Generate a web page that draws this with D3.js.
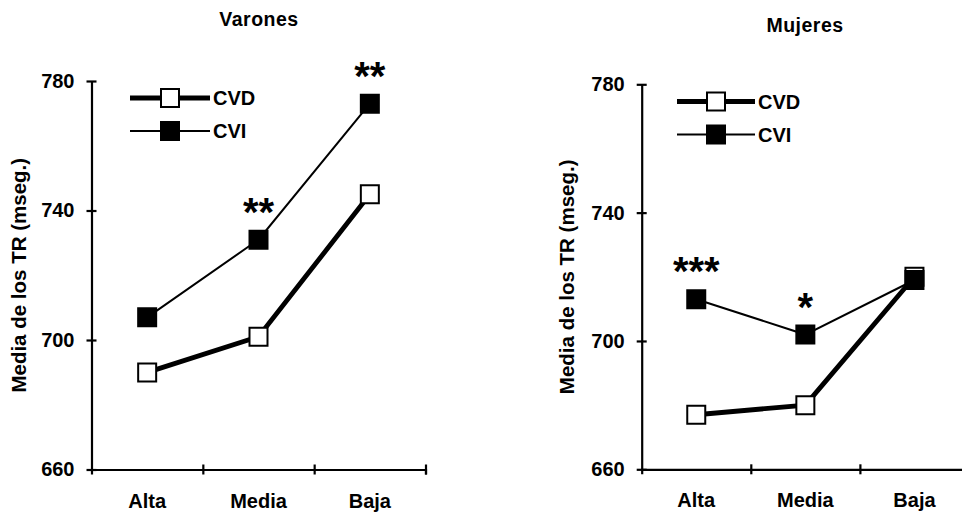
<!DOCTYPE html>
<html>
<head>
<meta charset="utf-8">
<script src="https://cdn.jsdelivr.net/npm/d3@7"></script>
<style>
    body { margin: 0; background: #fff; }
    text { font-family: "Liberation Sans", Arial, sans-serif; font-weight: bold; fill: #000; }
</style>
</head>
<body>
<div id="chart"></div>
<script>
// data
const categories = ["Alta", "Media", "Baja"];
const yTicks = [660, 700, 740, 780];

const varonesCVD = [690, 701, 745];
const varonesCVI = [707, 731, 773];
const varonesStars = ["", "**", "**"];

const mujeresCVD = [677, 680, 720];
const mujeresCVI = [713, 702, 719];
const mujeresStars = ["***", "*", ""];

const seriesNames = ["CVD", "CVI"];

document.addEventListener('DOMContentLoaded', function () {
    const svg = d3.select("#chart")
        .append("svg")
        .attr("width", 962)
        .attr("height", 514);

    drawPanel({
        title: "Varones", titleX: 259, titleY: 26,
        x0: 91.5, x1: 425.5, yTop: 81, yBottom: 469.5,
        legendX: 130, legendY: 98, legendW: 80,
        cvd: varonesCVD, cvi: varonesCVI, stars: varonesStars,
        labelX: 26
    });

    drawPanel({
        title: "Mujeres", titleX: 805, titleY: 32,
        x0: 641.7, x1: 969, yTop: 84.3, yBottom: 469.3,
        legendX: 677, legendY: 101.5, legendW: 78,
        cvd: mujeresCVD, cvi: mujeresCVI, stars: mujeresStars,
        labelX: 574
    });

    function drawPanel(p) {
        const g = svg.append("g");

        const xScale = d3.scaleBand().domain(categories).range([p.x0, p.x1]);
        const yScale = d3.scaleLinear().domain([660, 780]).range([p.yBottom, p.yTop]);
        const xCenter = c => xScale(c) + xScale.bandwidth() / 2;

        // y axis
        const yAxis = g.append("g")
            .attr("transform", "translate(" + p.x0 + ",0)")
            .call(d3.axisLeft(yScale).tickValues(yTicks).tickSize(5).tickSizeOuter(0).tickPadding(12));
        yAxis.selectAll("line").attr("x1", 5).attr("x2", -5);

        // x axis: labels at band centres, ticks at band edges
        const edges = d3.scaleLinear().domain([0, categories.length]).range([p.x0, p.x1]);
        const xTicks = g.append("g")
            .attr("transform", "translate(0," + p.yBottom + ")")
            .call(d3.axisBottom(edges).tickValues([1, 2, 3]).tickFormat("").tickSizeOuter(0).tickSize(5));
        xTicks.selectAll("line").attr("y1", -5).attr("y2", 5);

        const xLabels = g.append("g")
            .attr("transform", "translate(0," + p.yBottom + ")")
            .call(d3.axisBottom(xScale).tickSize(0).tickPadding(24));
        xLabels.select(".domain").remove();

        g.selectAll(".domain, .tick line")
            .attr("stroke", "#000")
            .attr("stroke-width", 2.2);
        g.selectAll(".tick text")
            .attr("font-family", null)
            .style("font-size", "20px");
        [yAxis, xTicks, xLabels].forEach(a => a.attr("font-family", null).attr("font-size", null));

        // axis title
        g.append("text")
            .attr("transform", "translate(" + p.labelX + "," + ((p.yTop + p.yBottom) / 2) + ") rotate(-90)")
            .attr("text-anchor", "middle")
            .style("font-size", "20.5px")
            .text("Media de los TR (mseg.)");

        // panel title
        g.append("text")
            .attr("x", p.titleX)
            .attr("y", p.titleY)
            .attr("text-anchor", "middle")
            .style("font-size", "19.5px")
            .style("letter-spacing", "0.5px")
            .text(p.title);

        const line = d3.line()
            .x((d, i) => xCenter(categories[i]))
            .y(d => yScale(d));

        const square = d3.symbol().type(d3.symbolSquare).size(324);

        const series = [
            { name: seriesNames[0], values: p.cvd, width: 4.8, fill: "#fff" },
            { name: seriesNames[1], values: p.cvi, width: 2, fill: "#000" }
        ];

        series.forEach(s => {
            g.append("path")
                .datum(s.values)
                .attr("d", line)
                .attr("fill", "none")
                .attr("stroke", "#000")
                .attr("stroke-width", s.width);
        });

        series.forEach(s => {
            g.selectAll(null)
                .data(s.values)
                .enter()
                .append("path")
                .attr("d", square)
                .attr("transform", (d, i) => "translate(" + xCenter(categories[i]) + "," + yScale(d) + ")")
                .attr("fill", s.fill)
                .attr("stroke", "#000")
                .attr("stroke-width", 2);
        });

        // significance marks above CVI
        g.selectAll(null)
            .data(p.stars)
            .enter()
            .append("text")
            .attr("x", (d, i) => xCenter(categories[i]))
            .attr("y", (d, i) => yScale(p.cvi[i]) - 14)
            .attr("text-anchor", "middle")
            .style("font-size", "40px")
            .text(d => d);

        // legend
        series.forEach((s, i) => {
            const ly = p.legendY + i * 33;
            g.append("line")
                .attr("x1", p.legendX)
                .attr("x2", p.legendX + p.legendW)
                .attr("y1", ly)
                .attr("y2", ly)
                .attr("stroke", "#000")
                .attr("stroke-width", s.width);
            g.append("path")
                .attr("d", square)
                .attr("transform", "translate(" + (p.legendX + p.legendW / 2) + "," + ly + ")")
                .attr("fill", s.fill)
                .attr("stroke", "#000")
                .attr("stroke-width", 2);
            g.append("text")
                .attr("x", p.legendX + p.legendW + 3)
                .attr("y", ly)
                .attr("dy", "0.36em")
                .style("font-size", "20px")
                .text(s.name);
        });
    }
});
</script>
</body>
</html>
